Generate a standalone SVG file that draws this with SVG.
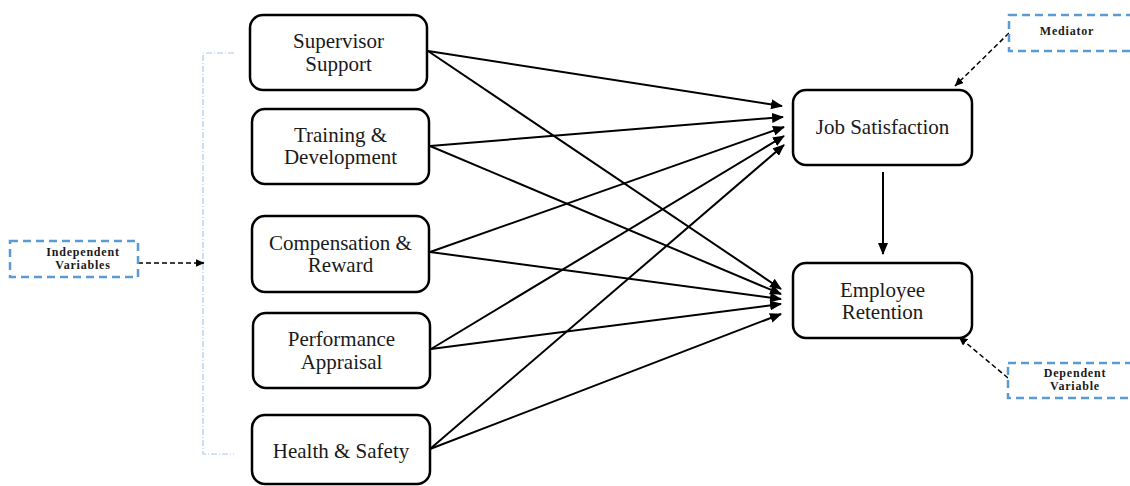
<svg xmlns="http://www.w3.org/2000/svg" width="1130" height="486" viewBox="0 0 1130 486">
<style>
.node{fill:#fff;stroke:#000;stroke-width:2.5}
.t{font-family:"Liberation Serif","Times New Roman",serif;font-size:21px;fill:#1a1a1a;text-anchor:middle}
.lab{fill:#fff;stroke:#5B9BD5;stroke-width:2.5;stroke-dasharray:8 5}
.s{font-family:"Liberation Serif","Times New Roman",serif;font-size:12px;font-weight:bold;letter-spacing:0.8px;fill:#1a1a1a;text-anchor:middle}
.c{stroke:#000;stroke-width:2;fill:none;marker-end:url(#ah)}
.d{stroke:#000;stroke-width:1.5;fill:none;stroke-dasharray:5 3;marker-end:url(#sh)}
.br{stroke:#A9C9EA;stroke-width:1.2;fill:none;stroke-dasharray:6 2 1 2}
</style>
<defs>
<marker id="ah" markerUnits="userSpaceOnUse" markerWidth="12" markerHeight="10" refX="11" refY="5" orient="auto"><path d="M0,0 L12,5 L0,10 Z" fill="#000"/></marker>
<marker id="sh" markerUnits="userSpaceOnUse" markerWidth="9" markerHeight="8" refX="8.5" refY="4" orient="auto"><path d="M0,0 L9,4 L0,8 Z" fill="#000"/></marker>
</defs>
<rect width="1130" height="486" fill="#fff"/>
<g id="connectors">
<line class="c" x1="428" y1="51" x2="782" y2="106"/>
<line class="c" x1="430" y1="146" x2="783" y2="117"/>
<line class="c" x1="430" y1="252" x2="784" y2="127"/>
<line class="c" x1="431" y1="349" x2="784" y2="136"/>
<line class="c" x1="430" y1="449" x2="784" y2="145"/>
<line class="c" x1="428" y1="51" x2="781" y2="289"/>
<line class="c" x1="430" y1="146" x2="781" y2="294"/>
<line class="c" x1="430" y1="252" x2="781" y2="299"/>
<line class="c" x1="431" y1="349" x2="781" y2="304"/>
<line class="c" x1="430" y1="449" x2="781" y2="314"/>
<line class="c" x1="883" y1="172" x2="883" y2="254"/>
<line class="d" x1="138" y1="263" x2="204" y2="263"/>
<line class="d" x1="1009" y1="33" x2="955" y2="86"/>
<line class="d" x1="1008" y1="378" x2="959" y2="337"/>
<path class="br" d="M234,53 H203 V454 H234"/>
</g>
<g id="supervisor-support"><rect class="node" x="250" y="15" width="177" height="75" rx="13"/><text class="t" x="338.5" y="48">Supervisor</text><text class="t" x="338.5" y="71">Support</text></g>
<g id="training-development"><rect class="node" x="252" y="109" width="177" height="75" rx="13"/><text class="t" x="340.5" y="142">Training &amp;</text><text class="t" x="340.5" y="164">Development</text></g>
<g id="compensation-reward"><rect class="node" x="252" y="216" width="177" height="76" rx="13"/><text class="t" x="340.5" y="250">Compensation &amp;</text><text class="t" x="340.5" y="272">Reward</text></g>
<g id="performance-appraisal"><rect class="node" x="253" y="313" width="177" height="75" rx="13"/><text class="t" x="341.5" y="346">Performance</text><text class="t" x="341.5" y="369">Appraisal</text></g>
<g id="health-safety"><rect class="node" x="252" y="415" width="178" height="69" rx="13"/><text class="t" x="341" y="458">Health &amp; Safety</text></g>
<g id="job-satisfaction"><rect class="node" x="793" y="90" width="179" height="75" rx="13"/><text class="t" x="882.5" y="134">Job Satisfaction</text></g>
<g id="employee-retention"><rect class="node" x="793" y="263" width="179" height="75" rx="13"/><text class="t" x="882.5" y="297">Employee</text><text class="t" x="882.5" y="319">Retention</text></g>
<g id="independent-variables"><rect class="lab" x="10" y="241" width="128" height="36"/><text class="s" x="83" y="256">Independent</text><text class="s" x="83" y="269">Variables</text></g>
<g id="mediator"><rect class="lab" x="1009" y="15" width="140" height="36"/><text class="s" x="1067" y="35">Mediator</text></g>
<g id="dependent-variable"><rect class="lab" x="1008" y="363" width="140" height="35"/><text class="s" x="1075" y="377">Dependent</text><text class="s" x="1075" y="390">Variable</text></g>
</svg>
